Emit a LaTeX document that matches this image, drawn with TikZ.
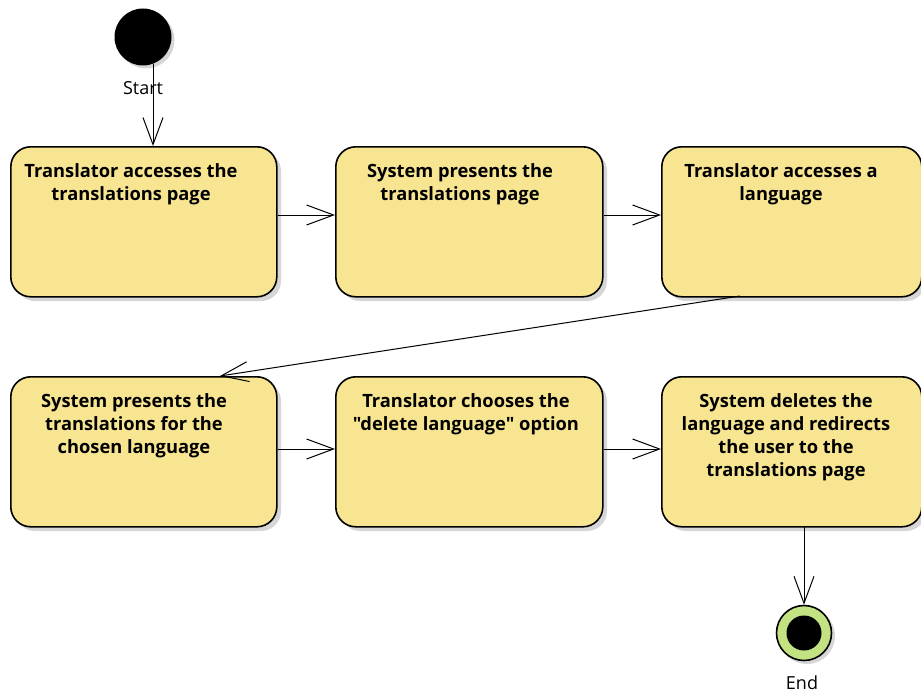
\documentclass[tikz,border=0pt]{standalone}
\usepackage{fontspec}
\setmainfont{Open Sans}[Ligatures=TeXOff]
\usetikzlibrary{arrows.meta,positioning}

\definecolor{actfill}{HTML}{F8E592}
\definecolor{shadowgrey}{HTML}{D6D6D6}
\definecolor{endgreen}{HTML}{C3E382}

\tikzset{
  activity/.style={draw=black, line width=1.6pt, fill=actfill, rounded corners=20pt,
    minimum height=150pt, inner sep=0pt, anchor=north west},
  actshadow/.style={fill=shadowgrey, rounded corners=20pt},
  acttext/.style={font=\bfseries\fontsize{18.3}{23}\selectfont, align=center, anchor=north,
    inner sep=0pt},
  flow/.style={draw=black, line width=1pt,
    -{Straight Barb[length=27pt, width=20pt, line width=1pt]}},
  lbl/.style={font=\fontsize{18}{20}\selectfont, inner sep=0pt}
}

\begin{document}
\begin{tikzpicture}[x=1pt, y=-1pt]
\useasboundingbox (0,0) rectangle (921,693);

% drop shadows behind the activities
\foreach \x/\y/\w in {10/146/266, 335/146/267, 661/146/260, 10/376/266, 335/376/267, 661/376/260}
  \fill[actshadow] (\x+5,\y+5) rectangle ++(\w,150);

% initial node
\fill[shadowgrey] (146,40) circle (28.5);
\node[circle, fill=black, minimum size=57pt, inner sep=0pt] (start) at (143,37) {};
\node[lbl] (startlbl) at (143,88) {Start};

% activities
\node[activity, minimum width=266pt] (a1) at (10,146) {};
\node[activity, minimum width=267pt] (a2) at (335,146) {};
\node[activity, minimum width=260pt] (a3) at (661,146) {};
\node[activity, minimum width=266pt] (a4) at (10,376) {};
\node[activity, minimum width=267pt] (a5) at (335,376) {};
\node[activity, minimum width=260pt] (a6) at (661,376) {};

\node[acttext] (t1) at (131,163) {Translator accesses the\\translations page};
\node[acttext] (t2) at (460,163) {System presents the\\translations page};
\node[acttext] (t3) at (781,163) {Translator accesses a\\language};
\node[acttext] (t4) at (134,393) {System presents the\\translations for the\\chosen language};
\node[acttext] (t5) at (466,393) {Translator chooses the\\"delete language" option};
\node[acttext] (t6) at (786,393) {System deletes the\\language and redirects\\the user to the\\translations page};

% final node
\fill[shadowgrey] (807,636) circle (28);
\node[circle, draw=black, line width=1.6pt, fill=endgreen, minimum size=55pt, inner sep=0pt] (end) at (804,633) {};
\fill[black] (end.center) circle (17.5);
\node[lbl] (endlbl) at (802,683) {End};

% control flows
\coordinate (s0) at (153,64);
\draw[flow] (s0) -- (s0 |- a1.north);
\draw[flow] (a1.east |- 0,215) -- (a2.west |- 0,215);
\draw[flow] (a2.east |- 0,215) -- (a3.west |- 0,215);
\coordinate (d0) at (740,296);
\coordinate (d1) at (220,376);
\draw[flow] (d0) -- (d1);
\draw[flow] (a4.east |- 0,449) -- (a5.west |- 0,449);
\draw[flow] (a5.east |- 0,449) -- (a6.west |- 0,449);
\coordinate (e0) at (804,526);
\draw[flow] (e0) -- (end.north);
\end{tikzpicture}
\end{document}
